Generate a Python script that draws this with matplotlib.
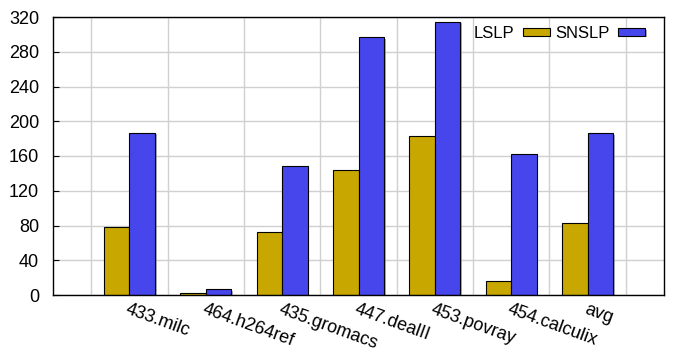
import numpy as np
import matplotlib.pyplot as plt
import matplotlib.patheffects as pe

plt.rcParams['font.family'] = ['Liberation Sans', 'DejaVu Sans']

benchmarks = ['433.milc', '464.h264ref', '435.gromacs', '447.dealII',
              '453.povray', '454.calculix', 'avg']
lslp = [78, 2, 72, 144, 183, 16, 82.5]
snslp = [187, 7, 149, 296.5, 314.5, 162, 186]
yticks = [0, 40, 80, 120, 160, 200, 240, 280, 320]

fig = plt.figure(figsize=(6.73, 3.56), dpi=100)
ax = fig.add_axes([53 / 673, 1 - 295 / 356, (664 - 53) / 673, (295 - 17) / 356])

shadow = [pe.SimplePatchShadow(offset=(1.2, -1.2), shadow_rgbFace='#888888', alpha=0.7),
          pe.Normal()]

x = np.arange(len(benchmarks))
w = 1 / 3
ax.bar(x - w / 2, lslp, w, color='#c8a800', edgecolor='black', linewidth=0.8,
       label='LSLP', zorder=3, path_effects=shadow)
ax.bar(x + w / 2, snslp, w, color='#4646ec', edgecolor='black', linewidth=0.8,
       label='SNSLP', zorder=3, path_effects=shadow)

ax.set_xlim(-1, len(benchmarks))
ax.set_ylim(0, 320)
ax.set_yticks(yticks)
ax.set_xticks(x)
ax.set_xticklabels(benchmarks, rotation=-20, ha='left', va='top',
                   rotation_mode='anchor', fontsize=13)
ax.tick_params(axis='y', labelsize=13, direction='in', length=4, pad=10)
ax.tick_params(axis='x', length=0, pad=4)

ax.set_xticks(np.arange(-0.5, len(benchmarks) + 0.5), minor=True)
ax.tick_params(axis='x', which='minor', length=0)
ax.grid(True, axis='y', color='#d0d0d0', linewidth=1, zorder=0)
ax.grid(True, axis='x', which='minor', color='#d0d0d0', linewidth=1, zorder=0)

for s in ax.spines.values():
    s.set_linewidth(1)
    s.set_zorder(5)

ax.legend(loc='upper right', ncol=2, markerfirst=False, frameon=False,
          fontsize=12, handlelength=1.6, handleheight=0.28, columnspacing=0.3,
          handletextpad=0.55, borderaxespad=0.0, borderpad=0.0,
          bbox_to_anchor=(1 - 19 / 611, 1 - 9 / 278))

fig.savefig('out.png', dpi=100)
